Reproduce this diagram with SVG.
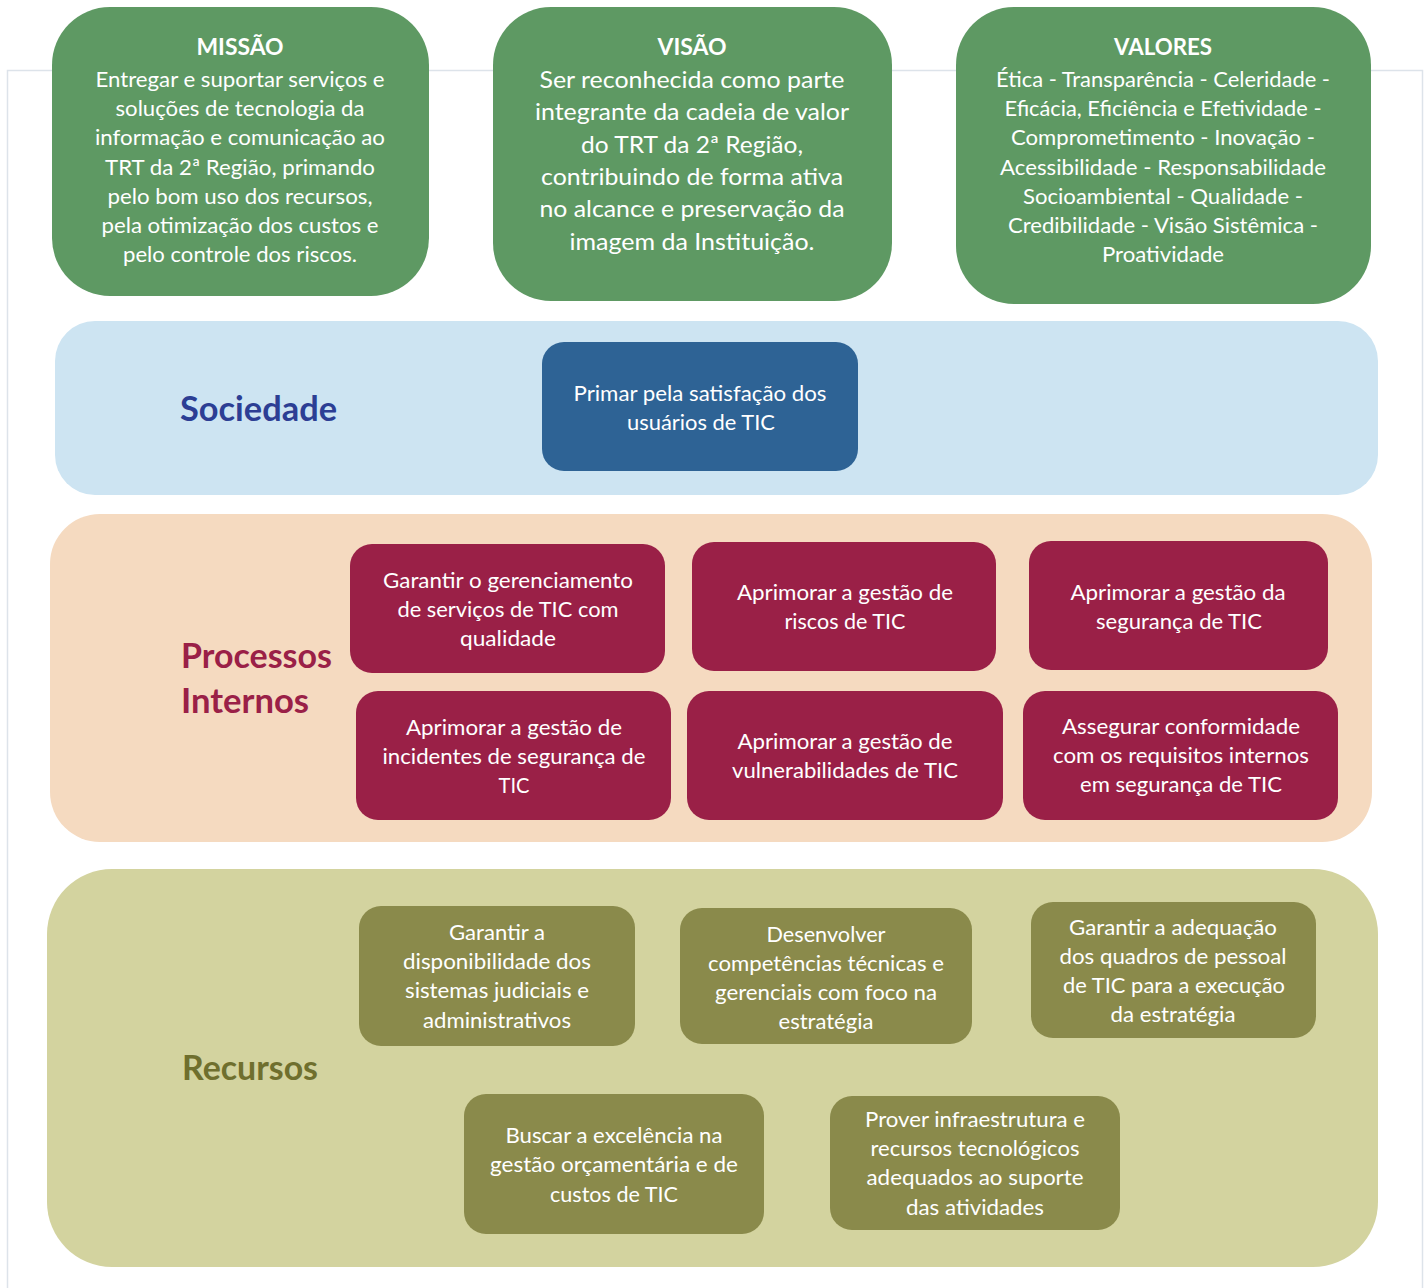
<svg xmlns="http://www.w3.org/2000/svg" width="1428" height="1288" viewBox="0 0 1428 1288">
<style>
text{font-family:Lato,"Open Sans","Liberation Sans",sans-serif;text-anchor:middle;fill:#fff}
.t{font-size:22px}
.tv{font-size:24px}
.h{font-size:23px;font-weight:bold}
.lab{font-size:34px;font-weight:bold;text-anchor:start}
.g{fill:#5e9963}
.p{fill:#9a2047}
.o{fill:#8a8a4b}
</style>
<rect width="1428" height="1288" fill="#fff"/>
<path d="M7.5 1288 V70.5 H1422.5 V1288" fill="none" stroke="#dde3ea" stroke-width="1.5"/>

<g id="missao">
<rect class="g" x="52" y="7" width="377" height="289" rx="58"/>
<text class="h" x="240" y="55" textLength="87" lengthAdjust="spacingAndGlyphs">MISSÃO</text>
<text class="t" x="240" y="87" textLength="289" lengthAdjust="spacingAndGlyphs">Entregar e suportar serviços e</text>
<text class="t" x="240" y="116" textLength="249" lengthAdjust="spacingAndGlyphs">soluções de tecnologia da</text>
<text class="t" x="240" y="145" textLength="290" lengthAdjust="spacingAndGlyphs">informação e comunicação ao</text>
<text class="t" x="240" y="175" textLength="270" lengthAdjust="spacingAndGlyphs">TRT da 2ª Região, primando</text>
<text class="t" x="240" y="204" textLength="265" lengthAdjust="spacingAndGlyphs">pelo bom uso dos recursos,</text>
<text class="t" x="240" y="233" textLength="277" lengthAdjust="spacingAndGlyphs">pela otimização dos custos e</text>
<text class="t" x="240" y="262" textLength="234" lengthAdjust="spacingAndGlyphs">pelo controle dos riscos.</text>
</g>

<g id="visao">
<rect class="g" x="493" y="7" width="399" height="294" rx="58"/>
<text class="h" x="692" y="55" textLength="69" lengthAdjust="spacingAndGlyphs">VISÃO</text>
<text class="tv" x="692" y="88" textLength="305" lengthAdjust="spacingAndGlyphs">Ser reconhecida como parte</text>
<text class="tv" x="692" y="120" textLength="314" lengthAdjust="spacingAndGlyphs">integrante da cadeia de valor</text>
<text class="tv" x="692" y="153" textLength="222" lengthAdjust="spacingAndGlyphs">do TRT da 2ª Região,</text>
<text class="tv" x="692" y="185" textLength="302" lengthAdjust="spacingAndGlyphs">contribuindo de forma ativa</text>
<text class="tv" x="692" y="217" textLength="305" lengthAdjust="spacingAndGlyphs">no alcance e preservação da</text>
<text class="tv" x="692" y="250" textLength="245" lengthAdjust="spacingAndGlyphs">imagem da Instituição.</text>
</g>

<g id="valores">
<rect class="g" x="956" y="7" width="415" height="297" rx="58"/>
<text class="h" x="1163" y="55" textLength="98" lengthAdjust="spacingAndGlyphs">VALORES</text>
<text class="t" x="1163" y="87" textLength="334" lengthAdjust="spacingAndGlyphs">Ética - Transparência - Celeridade -</text>
<text class="t" x="1163" y="116" textLength="317" lengthAdjust="spacingAndGlyphs">Eficácia, Eficiência e Efetividade -</text>
<text class="t" x="1163" y="145" textLength="304" lengthAdjust="spacingAndGlyphs">Comprometimento - Inovação -</text>
<text class="t" x="1163" y="175" textLength="326" lengthAdjust="spacingAndGlyphs">Acessibilidade - Responsabilidade</text>
<text class="t" x="1163" y="204" textLength="280" lengthAdjust="spacingAndGlyphs">Socioambiental - Qualidade -</text>
<text class="t" x="1163" y="233" textLength="310" lengthAdjust="spacingAndGlyphs">Credibilidade - Visão Sistêmica -</text>
<text class="t" x="1163" y="262" textLength="122" lengthAdjust="spacingAndGlyphs">Proatividade</text>
</g>

<g id="sociedade">
<rect x="55" y="321" width="1323" height="174" rx="40" fill="#cde4f2"/>
<text class="lab" x="180" y="421" style="fill:#2c3e94" textLength="157" lengthAdjust="spacingAndGlyphs">Sociedade</text>
</g>
<g id="primar">
<rect x="542" y="342" width="316" height="129" rx="22" fill="#2e6395"/>
<text class="t" x="700" y="401" textLength="253" lengthAdjust="spacingAndGlyphs">Primar pela satisfação dos</text>
<text class="t" x="701" y="430" textLength="148" lengthAdjust="spacingAndGlyphs">usuários de TIC</text>
</g>

<g id="processos">
<rect x="50" y="514" width="1322" height="328" rx="50" fill="#f5dac0"/>
<text class="lab" x="181" y="668" style="fill:#9a2047" textLength="151" lengthAdjust="spacingAndGlyphs">Processos</text>
<text class="lab" x="181" y="713" style="fill:#9a2047" textLength="128" lengthAdjust="spacingAndGlyphs">Internos</text>
</g>
<g id="p1">
<rect class="p" x="350" y="544" width="315" height="129" rx="22"/>
<text class="t" x="508" y="588" textLength="250" lengthAdjust="spacingAndGlyphs">Garantir o gerenciamento</text>
<text class="t" x="508" y="617" textLength="221" lengthAdjust="spacingAndGlyphs">de serviços de TIC com</text>
<text class="t" x="508" y="646" textLength="96" lengthAdjust="spacingAndGlyphs">qualidade</text>
</g>
<g id="p2">
<rect class="p" x="692" y="542" width="304" height="129" rx="22"/>
<text class="t" x="845" y="600" textLength="216" lengthAdjust="spacingAndGlyphs">Aprimorar a gestão de</text>
<text class="t" x="845" y="629" textLength="121" lengthAdjust="spacingAndGlyphs">riscos de TIC</text>
</g>
<g id="p3">
<rect class="p" x="1029" y="541" width="299" height="129" rx="22"/>
<text class="t" x="1178" y="600" textLength="215" lengthAdjust="spacingAndGlyphs">Aprimorar a gestão da</text>
<text class="t" x="1179" y="629" textLength="166" lengthAdjust="spacingAndGlyphs">segurança de TIC</text>
</g>
<g id="p4">
<rect class="p" x="356" y="691" width="315" height="129" rx="22"/>
<text class="t" x="514" y="735" textLength="216" lengthAdjust="spacingAndGlyphs">Aprimorar a gestão de</text>
<text class="t" x="514" y="764" textLength="263" lengthAdjust="spacingAndGlyphs">incidentes de segurança de</text>
<text class="t" x="514" y="793" textLength="31" lengthAdjust="spacingAndGlyphs">TIC</text>
</g>
<g id="p5">
<rect class="p" x="687" y="691" width="316" height="129" rx="22"/>
<text class="t" x="845" y="749" textLength="215" lengthAdjust="spacingAndGlyphs">Aprimorar a gestão de</text>
<text class="t" x="845" y="778" textLength="226" lengthAdjust="spacingAndGlyphs">vulnerabilidades de TIC</text>
</g>
<g id="p6">
<rect class="p" x="1023" y="691" width="315" height="129" rx="22"/>
<text class="t" x="1181" y="734" textLength="238" lengthAdjust="spacingAndGlyphs">Assegurar conformidade</text>
<text class="t" x="1181" y="763" textLength="256" lengthAdjust="spacingAndGlyphs">com os requisitos internos</text>
<text class="t" x="1181" y="792" textLength="202" lengthAdjust="spacingAndGlyphs">em segurança de TIC</text>
</g>

<g id="recursos">
<rect x="47" y="869" width="1331" height="398" rx="65" fill="#d3d39f"/>
<text class="lab" x="182" y="1080" style="fill:#6f6f2e" textLength="136" lengthAdjust="spacingAndGlyphs">Recursos</text>
</g>
<g id="r1">
<rect class="o" x="359" y="906" width="276" height="140" rx="22"/>
<text class="t" x="497" y="940" textLength="96" lengthAdjust="spacingAndGlyphs">Garantir a</text>
<text class="t" x="497" y="969" textLength="188" lengthAdjust="spacingAndGlyphs">disponibilidade dos</text>
<text class="t" x="497" y="998" textLength="184" lengthAdjust="spacingAndGlyphs">sistemas judiciais e</text>
<text class="t" x="497" y="1028" textLength="148" lengthAdjust="spacingAndGlyphs">administrativos</text>
</g>
<g id="r2">
<rect class="o" x="680" y="908" width="292" height="136" rx="22"/>
<text class="t" x="826" y="942" textLength="119" lengthAdjust="spacingAndGlyphs">Desenvolver</text>
<text class="t" x="826" y="971" textLength="236" lengthAdjust="spacingAndGlyphs">competências técnicas e</text>
<text class="t" x="826" y="1000" textLength="222" lengthAdjust="spacingAndGlyphs">gerenciais com foco na</text>
<text class="t" x="826" y="1029" textLength="95" lengthAdjust="spacingAndGlyphs">estratégia</text>
</g>
<g id="r3">
<rect class="o" x="1031" y="902" width="285" height="136" rx="22"/>
<text class="t" x="1173" y="935" textLength="208" lengthAdjust="spacingAndGlyphs">Garantir a adequação</text>
<text class="t" x="1173" y="964" textLength="227" lengthAdjust="spacingAndGlyphs">dos quadros de pessoal</text>
<text class="t" x="1174" y="993" textLength="222" lengthAdjust="spacingAndGlyphs">de TIC para a execução</text>
<text class="t" x="1173" y="1022" textLength="125" lengthAdjust="spacingAndGlyphs">da estratégia</text>
</g>
<g id="r4">
<rect class="o" x="464" y="1094" width="300" height="140" rx="22"/>
<text class="t" x="614" y="1143" textLength="217" lengthAdjust="spacingAndGlyphs">Buscar a excelência na</text>
<text class="t" x="614" y="1172" textLength="248" lengthAdjust="spacingAndGlyphs">gestão orçamentária e de</text>
<text class="t" x="614" y="1202" textLength="128" lengthAdjust="spacingAndGlyphs">custos de TIC</text>
</g>
<g id="r5">
<rect class="o" x="830" y="1096" width="290" height="134" rx="22"/>
<text class="t" x="975" y="1127" textLength="220" lengthAdjust="spacingAndGlyphs">Prover infraestrutura e</text>
<text class="t" x="975" y="1156" textLength="209" lengthAdjust="spacingAndGlyphs">recursos tecnológicos</text>
<text class="t" x="975" y="1185" textLength="217" lengthAdjust="spacingAndGlyphs">adequados ao suporte</text>
<text class="t" x="975" y="1215" textLength="138" lengthAdjust="spacingAndGlyphs">das atividades</text>
</g>
<g id="connectors"/>
</svg>
